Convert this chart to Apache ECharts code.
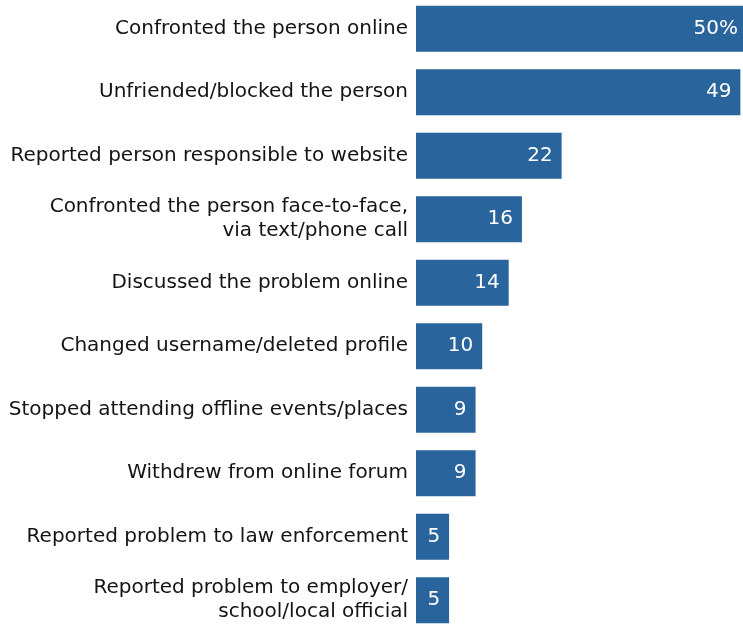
<!DOCTYPE html>
<html>
<head>
<meta charset="utf-8">
<script src="https://cdn.jsdelivr.net/npm/echarts@6/dist/echarts.min.js"></script>
<style>
  html, body { margin: 0; padding: 0; background: #fff; }
  #chart { width: 743px; height: 626px; }
</style>
</head>
<body>
<div id="chart"></div>
<script>
// Responses, top to bottom
const categories = [
  'Confronted the person online',
  'Unfriended/blocked the person',
  'Reported person responsible to website',
  'Confronted the person face-to-face,\nvia text/phone call',
  'Discussed the problem online',
  'Changed username/deleted profile',
  'Stopped attending offline events/places',
  'Withdrew from online forum',
  'Reported problem to law enforcement',
  'Reported problem to employer/\nschool/local official'
];
// Share of respondents (%)
const values = [50, 49, 22, 16, 14, 10, 9, 9, 5, 5];

const chart = echarts.init(document.getElementById('chart'), null, { renderer: 'canvas' });
const fontFamily = '"DejaVu Sans", sans-serif';

chart.setOption({
  animation: false,
  grid: {
    left: 416, top: -3, width: 331, height: 635,
    containLabel: false, outerBoundsMode: 'none'
  },
  xAxis: {
    type: 'value', min: 0, max: 50, show: false
  },
  yAxis: {
    type: 'category', data: categories, inverse: true,
    axisLine: { show: false }, axisTick: { show: false },
    axisLabel: {
      color: '#141414', fontSize: 20, fontFamily: fontFamily,
      margin: 8, lineHeight: 24, align: 'right'
    }
  },
  series: [{
    type: 'bar', data: values, barWidth: 46,
    itemStyle: { color: '#29649c' },
    label: {
      show: true, position: 'insideRight', distance: 9,
      color: '#fff', fontSize: 20, fontFamily: fontFamily,
      formatter: p => p.dataIndex === 0 ? p.value + '%' : String(p.value)
    }
  }]
});
</script>
</body>
</html>
